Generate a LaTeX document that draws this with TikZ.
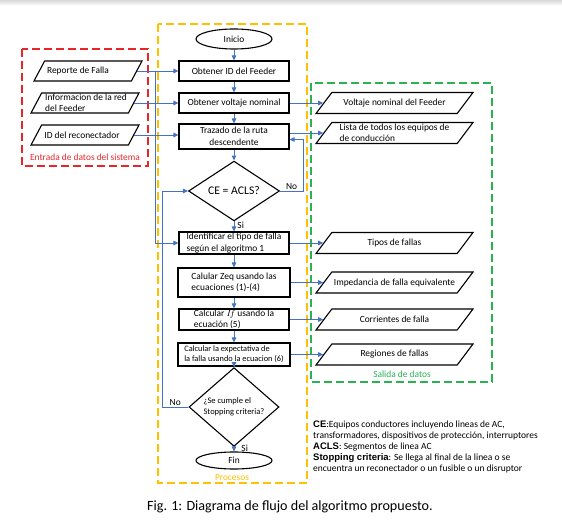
\documentclass[tikz,border=0pt]{standalone}
\usepackage{fontspec}
\setmainfont{Carlito}
\newfontfamily\arialfont{Liberation Sans}
\usetikzlibrary{shapes.geometric}
\usetikzlibrary{arrows.meta}
\definecolor{flowblue}{RGB}{68,114,196}
\definecolor{inred}{RGB}{232,38,42}
\definecolor{procyellow}{RGB}{255,192,0}
\definecolor{outgreen}{RGB}{40,178,80}

\begin{document}
\begin{tikzpicture}[x=1pt,y=-1pt,
    procbox/.style={draw, line width=1.1pt, rectangle, minimum width=110pt, inner sep=0.5pt, font=\fontsize{9.4}{11.5}\selectfont},
    dec/.style={draw, line width=1.1pt, diamond, inner sep=0pt},
    term/.style={draw, line width=1.1pt, ellipse, minimum width=76pt, inner sep=0pt, font=\fontsize{9.4}{11}\selectfont},
    datain/.style={draw, line width=1.1pt, trapezium, trapezium left angle=62, trapezium right angle=118, trapezium stretches body, minimum width=108pt, text height=10pt, text depth=10pt, inner sep=0pt},
    dataout/.style={draw, line width=1.1pt, trapezium, trapezium left angle=53, trapezium right angle=127, trapezium stretches body, minimum width=157pt, text height=10.5pt, text depth=10.5pt, inner sep=0pt},
    every label/.style={font=\fontsize{9.4}{11}\selectfont, inner sep=0pt, align=left},
    arr/.style={-{Triangle[length=5pt,width=4.5pt]}, flowblue, line width=0.9pt},
    groupbox/.style={dash pattern=on 8pt off 4pt, line width=1.3pt},
    lbl/.style={font=\fontsize{9.4}{11}\selectfont, inner sep=1pt}]
    \useasboundingbox (0,0) rectangle (562,526);
    \shade[top color=gray!30, bottom color=white] (0,0) rectangle (562,6);
    \draw[groupbox, inred] (22,49) rectangle (148,166);
    \draw[groupbox, procyellow] (158,24) rectangle (307,483);
    \draw[groupbox, outgreen] (311,83) rectangle (492,382);
    \node[lbl, inred] (entrada) at (85,157) {Entrada de datos del sistema};
    \node[lbl, procyellow] (procesos) at (232,478) {Procesos};
    \node[lbl, outgreen] (salida) at (402,374) {Salida de datos};

    \node[term, minimum height=20pt] (inicio) at (234,39) {Inicio};
    \node[procbox, minimum height=20pt] (obtid) at (234,71) {Obtener ID del Feeder};
    \node[procbox, minimum height=20pt] (obtvolt) at (234,103) {Obtener voltaje nominal};
    \node[procbox, minimum height=25pt, align=center] (trazado) at (234,136.5) {Trazado de la ruta\\descendente};
    \node[dec, minimum width=91pt, minimum height=59pt, font=\fontsize{11.7}{13}\selectfont] (ce) at (234,191) {CE = ACLS?};
    \node[procbox, minimum height=22pt, align=left] (ident) at (234,243) {Identificar el tipo de falla\\según el algoritmo 1};
    \node[procbox, minimum width=112pt, minimum height=29pt, align=left] (zeq) at (234,282.5) {Calular Zeq usando las\\ecuaciones (1)-(4)};
    \node[procbox, minimum height=21pt, align=left] (calcif) at (234,319.5) {Calcular $I\!f$ usando la\\ecuación (5)};
    \node[procbox, minimum width=112pt, minimum height=23pt, align=left, font=\fontsize{8.3}{10}\selectfont] (expect) at (234,354.5) {Calcular la expectativa de\\la falla usando la ecuacion (6)};
    \node[dec, minimum width=90pt, minimum height=60pt, align=left, font=\fontsize{8.5}{10.5}\selectfont] (stop) at (234,407) {¿Se cumple el\\Stopping criteria?};
    \node[term, minimum height=17pt] (fin) at (234,460.5) {Fin};

    \node[datain, label={[xshift=-10pt]center:Reporte de Falla}] (reporte) at (88,71) {};
    \node[datain, label={[xshift=1pt]center:Informacion de la red\\del Feeder}] (info) at (85,103) {};
    \node[datain, label={[xshift=-3pt]center:ID del reconectador}] (idrec) at (85,135) {};

    \node[dataout, label=center:Voltaje nominal del Feeder] (voltf) at (394.5,103) {};
    \node[dataout, label=center:Lista de todos los equipos de\\de conducción] (lista) at (394.5,133) {};
    \node[dataout, label=center:Tipos de fallas] (tipos) at (394.5,243) {};
    \node[dataout, label=center:Impedancia de falla equivalente] (imped) at (394.5,282.5) {};
    \node[dataout, label=center:Corrientes de falla] (corr) at (394.5,319.5) {};
    \node[dataout, label=center:Regiones de fallas] (regiones) at (394.5,354.5) {};

    \coordinate (split) at (155,71);
    \coordinate (loopL) at (162,191);
    \coordinate (loopR) at (303,139.5);

    \draw[arr] (inicio) -- (obtid);
    \draw[arr] (obtid) -- (obtvolt);
    \draw[arr] (obtvolt) -- (trazado);
    \draw[arr] (trazado) -- (ce);
    \draw[arr] (ce) -- node[lbl, right, pos=0.35, xshift=2pt, black]{Si} (ident);
    \draw[arr] (ident) -- (zeq);
    \draw[arr] (zeq) -- (calcif);
    \draw[arr] (calcif) -- (expect);
    \draw[arr] (expect) -- (stop);
    \draw[arr] (stop) -- node[lbl, right, pos=0.3, xshift=6pt, black]{Si} (fin);

    \draw[arr] (reporte) -- (obtid);
    \draw[arr] (info) -- (obtvolt);
    \draw[arr] (idrec.east) -- (idrec.east -| trazado.west);
    \draw[arr] (split) |- (ident);

    \draw[arr] (obtvolt) -- (voltf);
    \draw[arr] (trazado.east |- lista) -- (lista);
    \draw[arr] (ident) -- (tipos);
    \draw[arr] (zeq) -- (imped);
    \draw[arr] (calcif) -- (corr);
    \draw[arr] (expect) -- (regiones);

    \draw[arr] (ce) -| node[lbl, pos=0.25, above, black]{No} (loopR) -- (trazado.east |- loopR);
    \draw[arr] (stop) -| node[lbl, pos=0.25, above, black]{No} (loopL) -- (ce);

    \node[anchor=north west, align=left, inner sep=0pt, font=\fontsize{9.5}{11}\selectfont] (legend) at (313,421) {{\arialfont\bfseries CE}:Equipos conductores incluyendo lineas de AC,\\transformadores, dispositivos de protección, interruptores\\{\arialfont\bfseries ACLS}: Segmentos de linea AC\\{\arialfont\bfseries Stopping criteria}: Se llega al final de la linea o se\\encuentra un reconectador o un fusible o un disruptor};
    \node[anchor=west, inner sep=0pt, font=\fontsize{14.1}{16}\selectfont] (caption) at (147,507) {Fig. 1: Diagrama de flujo del algoritmo propuesto.};
\end{tikzpicture}
\end{document}
